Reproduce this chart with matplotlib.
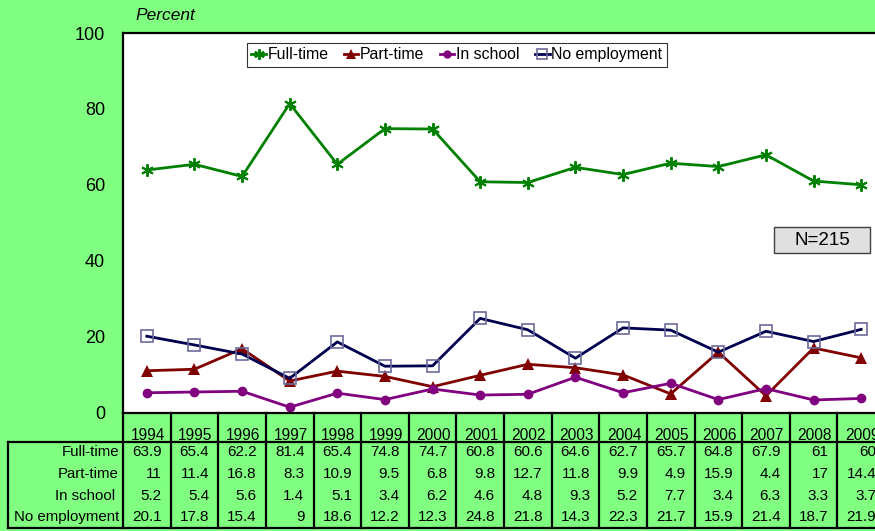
import matplotlib
matplotlib.use("Agg")
import matplotlib.pyplot as plt
from matplotlib.lines import Line2D
from matplotlib.patches import Rectangle

plt.rcParams['font.family'] = ['Liberation Sans', 'DejaVu Sans']

years = ["1994", "1995", "1996", "1997", "1998", "1999", "2000", "2001",
         "2002", "2003", "2004", "2005", "2006", "2007", "2008", "2009"]
full_time = [63.9, 65.4, 62.2, 81.4, 65.4, 74.8, 74.7, 60.8, 60.6, 64.6, 62.7, 65.7, 64.8, 67.9, 61, 60]
part_time = [11, 11.4, 16.8, 8.3, 10.9, 9.5, 6.8, 9.8, 12.7, 11.8, 9.9, 4.9, 15.9, 4.4, 17, 14.4]
in_school = [5.2, 5.4, 5.6, 1.4, 5.1, 3.4, 6.2, 4.6, 4.8, 9.3, 5.2, 7.7, 3.4, 6.3, 3.3, 3.7]
no_employment = [20.1, 17.8, 15.4, 9, 18.6, 12.2, 12.3, 24.8, 21.8, 14.3, 22.3, 21.7, 15.9, 21.4, 18.7, 21.9]

series_names = ["Full-time", "Part-time", "In school", "No employment"]
series_values = [full_time, part_time, in_school, no_employment]
row_labels = ["Full-time", "Part-time", "In school ", "No employment"]

W, H = 875, 531
BG = '#80FF80'
fig = plt.figure(figsize=(W / 100, H / 100), dpi=100, facecolor=BG)


def fx(px):
    return px / W


def fy(py):
    return (H - py) / H


ax_left, ax_right, ax_top, ax_bot = 123, 885, 33, 412.5
ax = fig.add_axes([fx(ax_left), fy(ax_bot), fx(ax_right - ax_left), (ax_bot - ax_top) / H])
ax.set_facecolor('white')
n = len(years)
xs = list(range(n))
ax.set_xlim(-0.5, n - 0.5)
ax.set_ylim(0, 100)
ax.set_yticks([0, 20, 40, 60, 80, 100])
ax.tick_params(axis='y', length=0, pad=13, labelsize=13)
ax.set_xticks([])
for s in ax.spines.values():
    s.set_linewidth(1.6)
    s.set_color('black')

styles = [
    dict(color='#008000', marker=(6, 2, 0), markersize=9, markeredgewidth=1.4),
    dict(color='#800000', marker='^', markersize=8, markeredgewidth=0),
    dict(color='#800080', marker='o', markersize=7, markeredgewidth=0),
    dict(color='#000050', marker='s', markersize=9, markerfacecolor='none',
         markeredgecolor='#6a6a9a', markeredgewidth=1.2),
]
handles = []
for name, vals, st in zip(series_names, series_values, styles):
    h, = ax.plot(xs, vals, linewidth=2.0, label=name, clip_on=False, **st)
    handles.append(h)

leg = ax.legend(handles=handles, loc='upper left', ncol=4,
                bbox_to_anchor=((247 - ax_left) / (ax_right - ax_left), (ax_bot - 43) / (ax_bot - ax_top)),
                borderaxespad=0,
                fontsize=11.4, frameon=True, fancybox=False, edgecolor='black',
                handlelength=0.9, handletextpad=0.1, columnspacing=1.0,
                borderpad=0.28, markerscale=0.85)
leg.get_frame().set_linewidth(0.8)

fig.text(fx(135), fy(15), "Percent", fontsize=12.5, style='italic', va='center', ha='left')

# N box
fig.add_artist(Rectangle((fx(774), fy(253)), fx(96), 26 / H, transform=fig.transFigure,
                         facecolor='#E0E0E0', edgecolor='#404040', linewidth=1.0))
fig.text(fx(822), fy(240), "N=215", fontsize=13.5, ha='center', va='center')

# Data table below plot
col_w = (ax_right - ax_left) / n
edges = [ax_left + i * col_w for i in range(n + 1)]
tab_top, row_top, tab_bot = 413, 441.7, 528
row_h = (tab_bot - row_top) / len(row_labels)
lw = 1.6


def line(x0, y0, x1, y1):
    fig.add_artist(Line2D([fx(x0), fx(x1)], [fy(y0), fy(y1)], color='black', linewidth=lw))


for e in edges:
    line(e, tab_top, e, tab_bot)
line(8, row_top, W + 20, row_top)
line(8, tab_bot, W + 20, tab_bot)
line(8, row_top, 8, tab_bot)

for i, yr in enumerate(years):
    fig.text(fx((edges[i] + edges[i + 1]) / 2 + 1), fy(440), yr, fontsize=11.2,
             ha='center', va='baseline')

for r, (lab, vals) in enumerate(zip(row_labels, series_values)):
    yc = row_top + (r + 0.5) * row_h
    fig.text(fx(119), fy(yc), lab, fontsize=10.8, ha='right', va='center')
    for i, v in enumerate(vals):
        fig.text(fx(edges[i + 1] - 9), fy(yc), f"{v:g}", fontsize=11, ha='right', va='center')

fig.savefig("out.png", dpi=100, facecolor=BG)
